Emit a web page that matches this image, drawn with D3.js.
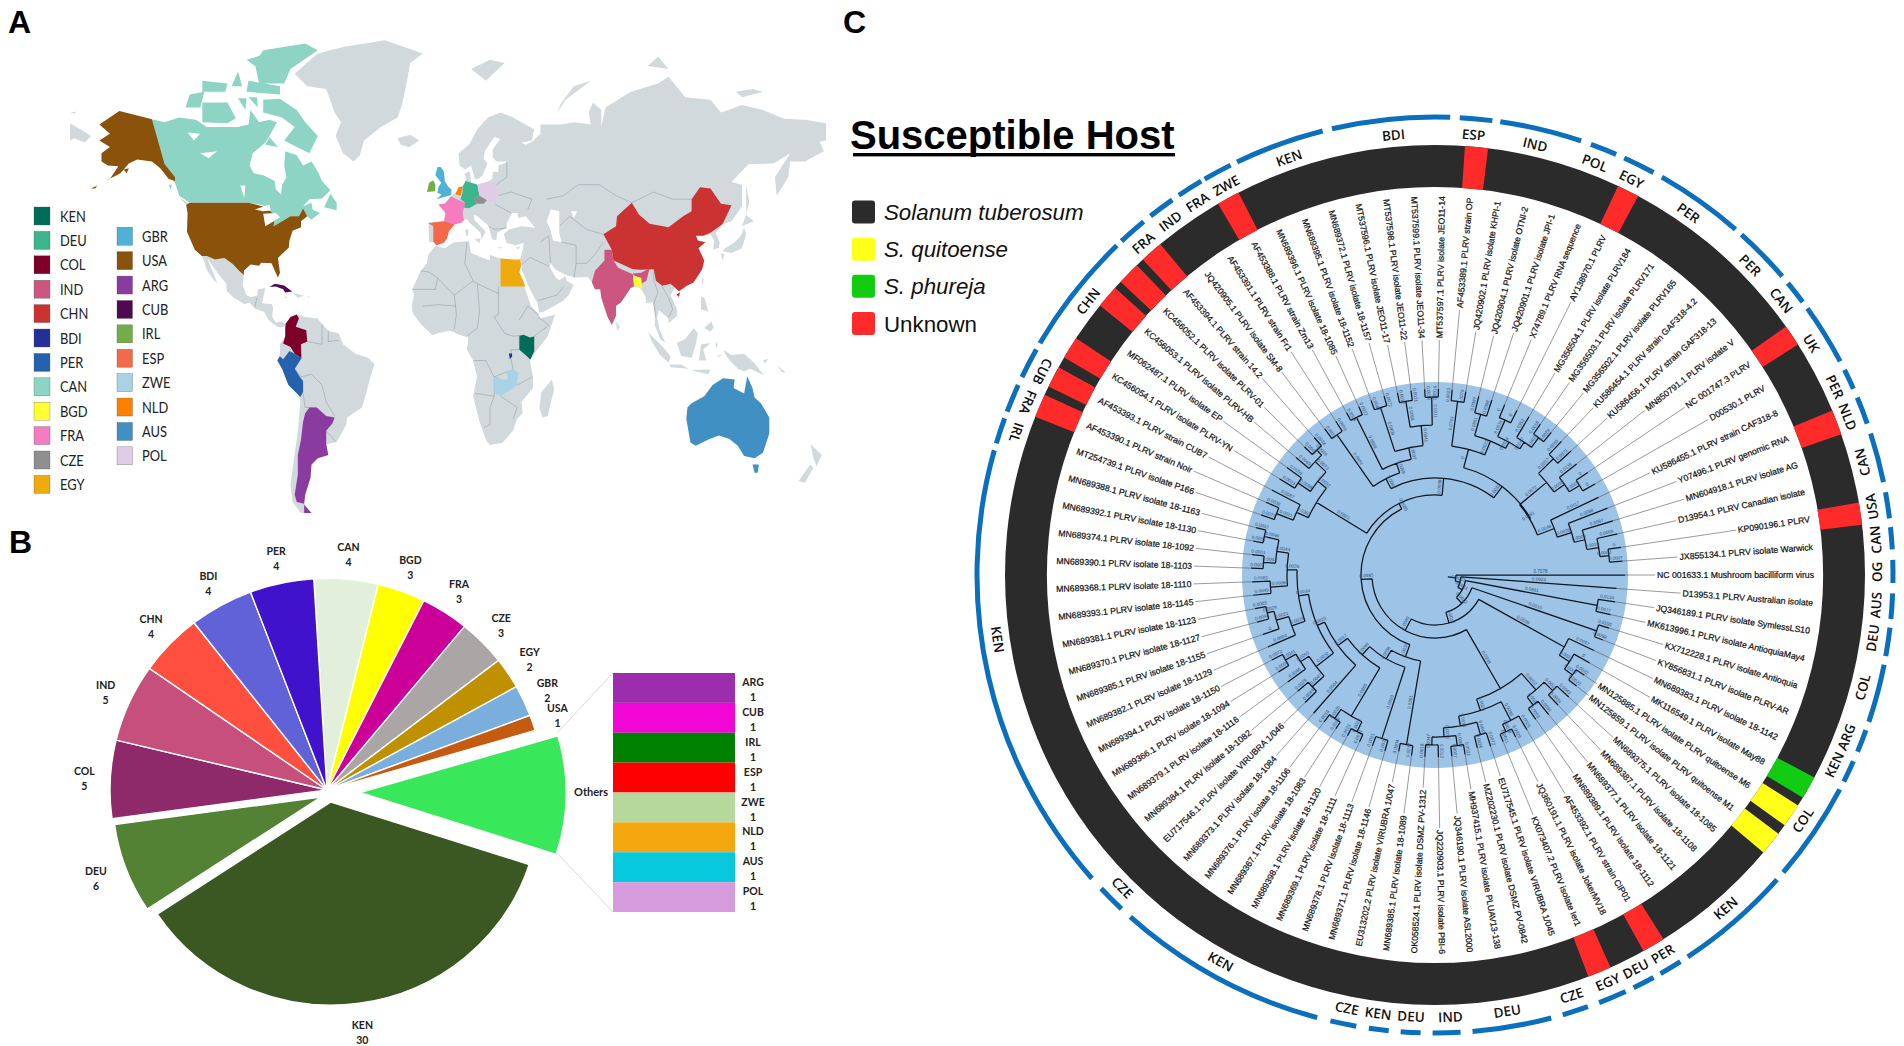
<!DOCTYPE html>
<html>
<head>
<meta charset="utf-8">
<script src="https://cdn.jsdelivr.net/npm/d3@7"></script>
<style>
  body { margin: 0; background: #fff; }
  svg { display: block; }
</style>
</head>
<body>
<div id="chart"></div>
<script>
// ---- panel A, legend
const legendLeft = ['KEN', 'DEU', 'COL', 'IND', 'CHN', 'BDI', 'PER', 'CAN', 'BGD', 'FRA', 'CZE', 'EGY'];
const legendRight = ['GBR', 'USA', 'ARG', 'CUB', 'IRL', 'ESP', 'ZWE', 'NLD', 'AUS', 'POL'];
const countryColors = {
  KEN: '#006d5b', DEU: '#3cb48c', COL: '#7d0028', IND: '#cc5680', CHN: '#cb3232', BDI: '#24309a',
  PER: '#2462ae', CAN: '#8dd4c5', BGD: '#ffff33', FRA: '#f57cc0', CZE: '#8f8f8f', EGY: '#efaa0e',
  GBR: '#4fb0d8', USA: '#8a520a', ARG: '#8a3ba0', CUB: '#4d0a50', IRL: '#72ad48', ESP: '#f26a4a',
  ZWE: '#a8d2e6', NLD: '#ff8000', AUS: '#4090c4', POL: '#dfcde8'
};

// ---- panel A, rough outlines in lon/lat
const greyLand = [
  [[-73,78.2],[-67,76],[-58,75.5],[-54,71],[-51,69],[-53.5,66],[-50,62],[-45,60],[-42,61.5],[-40,65],[-32,68],[-24,70],[-22,72.5],[-20,76],[-18,80],[-12,81.5],[-30,83.5],[-50,82.5],[-62,81.5],[-68,79.8]],
  [[-117.2,32.5],[-114.8,32.5],[-111,31.3],[-106.5,31.8],[-102.5,29.8],[-99.5,27.5],[-97.2,26],[-97.8,22.5],[-96,19],[-94,18.2],[-91,18.8],[-90.5,21],[-87,21.5],[-88,18],[-88.5,16],[-84,15.8],[-83.3,14.5],[-83.7,11],[-82,9],[-79.5,9.5],[-77.3,8.6],[-78,7.5],[-80.5,7.3],[-83,8.3],[-85.5,10],[-87.6,13],[-91.5,14],[-94.5,16.2],[-97,15.8],[-102,18],[-105.5,20.5],[-105.5,23],[-109,26],[-112.5,29.5],[-114.5,31.5],[-112,27],[-109.7,23],[-112,24.7],[-115,28],[-116,30.5]],
  [[-77.3,8.6],[-75,11],[-72,12],[-68,11],[-62,10.5],[-60,8.5],[-57,6],[-52,5],[-50,1],[-44,-2.5],[-38,-4],[-35,-6.5],[-37,-11],[-39,-17],[-41,-22],[-48,-25.5],[-48.5,-28],[-53,-33.8],[-58,-34.5],[-57,-38],[-62,-39],[-65,-41],[-65.5,-45],[-68,-50],[-68.5,-52.5],[-65,-55],[-70,-55],[-74,-52],[-75,-47],[-73.5,-40],[-71.5,-30],[-70.3,-20],[-71,-17.5],[-76,-14],[-79,-8],[-81.3,-5],[-80,-2.5],[-80,1],[-77.5,4],[-77.5,7]],
  [[-9,37],[-9.3,43],[-2,43.5],[-1.2,46],[-4.5,48.5],[-1.5,48.8],[1.5,50.8],[4,52],[7,53.5],[8.5,55.5],[8,57],[10.5,57.5],[11,54.5],[14,54],[18.5,54.7],[21,55.5],[21.5,57.5],[24,57.3],[24,59],[29,60],[23,60],[21.3,61],[21.3,63],[25,65.3],[22,65.8],[17.5,62.5],[17,60.7],[18.8,59.5],[16.5,56.5],[14.3,55.5],[12.8,55.5],[11,59],[8,58],[5.5,59],[5,62],[10,64],[14,67.5],[19,70],[25,71],[31,70],[41,67.5],[40,65],[35,64.5],[37,64],[40,64.7],[44,66.5],[44,68.5],[54,68.5],[60,69],[68,68.5],[67,71],[69,73],[73,71.5],[73,68],[75,72],[81,73.5],[87,75],[100,76.5],[105,77.7],[113,74],[125,73.5],[130,71],[140,72.5],[150,71.5],[160,69.7],[170,69.5],[180,68.8],[180,65],[177,64.7],[179,62.5],[170,60],[163,60],[162,56],[156.5,51],[155.7,56],[163,62],[155,59.5],[143,59.3],[135,54.7],[140,54],[140,48],[135,43.5],[130.5,42.5],[127.5,39.8],[129.4,37],[129,35.2],[126.3,34.5],[126.7,37.7],[125,39.5],[121.5,39],[118,39],[119,37.5],[122.5,37],[119.3,35],[122,31],[121,28],[117,23.5],[113.5,22.2],[110,20.3],[108,21.7],[106,19],[109,14],[109,11.5],[105,8.8],[105,10.5],[102,12.5],[100.5,13.5],[99.5,11],[100.5,7],[103.5,1.5],[101,3],[98.5,8],[98.5,12],[97.5,16.5],[94.5,16],[94,18.5],[92,21],[90.5,22],[87,21.5],[82.5,16.5],[80,15],[80,11.5],[78,8.2],[76,11],[73,18],[72.5,21],[70,21],[68.5,23.5],[66.5,25.3],[61,25.2],[57,25.8],[54.5,26.6],[51,28],[48.8,30.2],[48.5,28.5],[50.2,26.5],[51.5,25],[53,24.2],[56,25.7],[56.5,24],[59.8,22.5],[57.5,19],[55,17],[52,15.7],[45,12.8],[43.3,12.8],[42.7,16],[39,21],[35,28],[35,29.5],[34.3,31.3],[35.8,35],[36,36.7],[32,36],[28,36.7],[26.5,39.5],[29,41],[35,42],[41.5,41.5],[37,45],[33.5,44.5],[33,46],[30.5,46],[28,43],[28,41.5],[26,40.8],[23.5,40],[23,37.5],[21,38],[19.5,41.5],[19,42.3],[14,45],[12.3,45.5],[12.5,44],[18,40.3],[16,38],[15.5,40],[10.5,43],[8.8,44.3],[6,43],[3.2,43],[0.5,40.5],[-0.5,38.2],[-2,36.8],[-5.5,36],[-7,37]],
  [[-180,68.8],[-175,67.5],[-170,66],[-173,64.5],[-178,65.5],[-180,65]],
  [[-5.8,35.8],[-1.5,35],[3,37],[10,37.3],[11,33.5],[15,32.3],[20,31],[20,32.8],[25,31.6],[32,31.2],[34.3,31.3],[32.5,29.8],[35,24],[37.3,20],[39.5,15],[43.3,12],[44,10.5],[51,12],[47.5,4],[41.5,-2],[39,-5],[40.5,-11],[40.5,-15],[35,-20],[35.5,-24],[32.8,-26],[31,-30],[26,-34],[20,-34.8],[18.3,-33.5],[15,-27],[12,-18],[13.8,-11],[12,-5],[9,-1],[9.7,3.5],[5.5,4.5],[1,6],[-4.5,5.2],[-7.5,4.3],[-13,8.5],[-16.7,12.3],[-17.3,14.8],[-16.2,19],[-17,21],[-13,27.5],[-10,30],[-9.5,32.8],[-6,35.8]],
  [[49.5,-12],[50.5,-15.5],[47.5,-25],[45,-25.5],[43.5,-22],[44.5,-16.5]],
  [[130.8,34],[135,33.5],[140,35],[142,39.5],[141,41.5],[139.5,39],[136.5,37],[132,35]],
  [[140,42],[145.5,43.5],[142,45.5]],
  [[130,33.5],[131.8,33],[130.6,31]],
  [[142,54],[143.5,49],[142,46],[142,50]],
  [[95.3,5.5],[103.5,-1],[106,-3.5],[105,-5.8],[101,-3],[97,2]],
  [[105.5,-6.5],[111,-6.5],[114.5,-8],[106,-7.5]],
  [[109,1.5],[113,3],[117,7],[119,5],[118,1],[116,-4],[111,-3.3]],
  [[119.5,-5],[120.5,1],[125,1.5],[121.5,-1],[123,-5]],
  [[131,-1],[135,-3],[141,-2.5],[146,-6],[150.5,-10.5],[144,-8],[141,-9],[138,-8],[133,-4]],
  [[120.5,18.5],[122,18],[124,13],[120.5,14]],
  [[122,7],[125.5,9.5],[126.5,7],[125,5.7]],
  [[80,9.5],[81.8,7.5],[80.5,6]],
  [[121,25],[121.8,24.8],[120.8,22]],
  [[-24,65.5],[-18,66.3],[-13.7,65],[-18.5,63.4],[-22.5,64]],
  [[11,79],[20,80.5],[27,80],[18,77]],
  [[52,71],[56,73.5],[68,77],[60,76],[54,73]],
  [[95,79.5],[105,79],[100,81]],
  [[137,75],[145,75.5],[150,75],[140,74]],
  [[-74,19.8],[-68.5,18.7],[-71.5,18]],
  [[172.7,-34.5],[178,-38],[175.5,-41.5],[174,-39]],
  [[172.5,-41],[174,-42],[170,-46.5],[167,-46]],
  [[8.3,41],[9.7,41],[9.5,39],[8.5,39]],
  [[12.5,38],[15.6,38.2],[15,36.7]],
  [[116,-8.5],[125,-8.3],[124,-10],[118,-9]],
  [[127.5,2],[128.5,1],[127.8,-0.8]],
  [[129,-3],[130.8,-3.2],[128,-3.8]],
  [[-78,18.5],[-76.3,18.1],[-77.5,17.8]],
  [[-67.2,18.5],[-65.7,18.4],[-66.5,18]],
  [[150,-5],[152.5,-4.3],[151,-6.2]],
  [[157,-7],[161,-9.5],[159,-9.2]],
  [[23.5,35.5],[26.3,35.2],[24.5,34.9]],
  [[32.5,35.3],[34.5,35.6],[33.5,34.6]],
  [[-180,71],[-177,71.2],[-178,70.8]]
];
const whiteLakes = [
  [[49,47],[53,46.5],[53,40],[54,37],[50,37.5],[49,40.5],[47,43.5]],
  [[-92,47],[-85,48.5],[-84.5,46.7],[-88,46.5]],
  [[-88,45.8],[-82,46],[-80,44.8],[-83,43.5],[-87,42]],
  [[58.5,46.5],[61.5,46.5],[60,44.5]],
  [[-124,66.8],[-118,66.5],[-121,65]],
  [[-118,62],[-110,62.5],[-114,60.8]],
  [[-99,53.8],[-96.5,53.8],[-97,50.5]]
];
const canRings = [
  [[-141,69.6],[-135,69],[-128,70],[-120,69.5],[-115,68],[-108,68],[-100,68],[-95,68.5],[-94,71.5],[-90,69],[-85,69.5],[-81.5,69],[-85,66],[-87,64.5],[-93,62],[-94.5,59],[-92.5,57],[-88,56.5],[-82.5,55],[-82,52.8],[-79.5,51.3],[-79,54],[-77,56],[-78,59],[-77.5,62.5],[-72,61.5],[-69,59],[-65,60],[-62,57.5],[-60,55],[-56,52.5],[-60,50.2],[-66,50],[-69,48],[-65,49],[-64.5,47],[-61,46],[-65,44],[-67,45],[-69,47.3],[-71,45],[-75,45],[-79,43.5],[-83,42],[-82.5,45.3],[-84.5,46.5],[-88,48.3],[-95,49],[-123,49],[-128,51],[-130,54.5],[-133,56.5],[-135,59],[-141,60]],
  [[-62,66],[-66,62],[-72,63.5],[-78,65],[-73,68],[-79,70],[-88,71],[-88,73.5],[-80,73.7],[-72,71.5],[-68,69]],
  [[-117,69],[-105,68.8],[-101,69.8],[-105,73],[-117,73]],
  [[-125,72],[-118,72],[-116,75],[-123,74.5]],
  [[-90,76.5],[-78,76.5],[-75,79],[-62,82],[-68,83],[-88,82],[-92,80]],
  [[-96,75],[-80,74.5],[-80,76],[-95,77]],
  [[-117,75],[-106,75],[-105,76.5],[-117,77]],
  [[-87,64],[-81,63.5],[-85,65.8]],
  [[-59,47.7],[-53,46.8],[-53,49],[-56,51.5]],
  [[-128,50.7],[-123.5,48.4],[-125,48.7]],
  [[-100,73.8],[-96.5,71.5],[-96,73.8]],
  [[-95,74],[-90.5,72],[-91,74]],
  [[-96,80.5],[-88,78.5],[-88,81.3]],
  [[-100,78.6],[-103,76],[-98,76]],
  [[-133,54],[-131.5,54],[-132,52.5]]
];
const usaRings = [
  [[-124.7,48.4],[-123,49],[-95,49],[-88.5,48],[-84.5,46.5],[-82.5,45.3],[-83,42],[-79,43.5],[-75,45],[-71,45],[-69,47.3],[-67,45],[-70,43.5],[-70,41.7],[-74,40.6],[-75.5,37.5],[-75.8,35.3],[-81,31.8],[-80,26.8],[-81,25.2],[-82.8,28],[-84,30],[-89,30.2],[-90,29.2],[-94,29.6],[-97.2,27.5],[-97.2,26],[-99.5,27.5],[-102.5,29.8],[-106.5,31.8],[-111,31.3],[-114.8,32.5],[-117.2,32.5],[-120.6,34.5],[-122.5,37.5],[-124.3,40.3],[-124,46]],
  [[-141,69.6],[-148,70.4],[-156.5,71.3],[-166,68.5],[-161,66.5],[-166,65],[-161,63.5],[-165,62],[-165,60],[-162,59],[-157,58.8],[-161,55.5],[-164,54.7],[-156,57],[-152,59.5],[-148,60.5],[-141,60],[-137,58.3],[-133,55.5],[-130,55],[-130,56],[-135,59.4]],
  [[-154.5,58],[-152,58.3],[-153,57]],
  [[-170,53],[-167,53.8],[-168,53]]
];
const countryRings = [
  ['CAN', canRings],
  ['USA', usaRings],
  ['CUB', [[[-85,21.8],[-82.5,23],[-78,22.4],[-74.2,20.2],[-77.5,19.9],[-78.5,21],[-82,22]]]],
  ['COL', [[[-77.3,8.6],[-75,11],[-72,12],[-71,10.5],[-72.5,7.5],[-67.5,6.2],[-67,2],[-70,1],[-69.8,-4.2],[-73,-2.5],[-75,0],[-78.5,1.3],[-77.5,4],[-77.5,7]]]],
  ['PER', [[[-81.3,-5],[-80,-3.4],[-78.5,-4.5],[-75.5,-1.5],[-73,-2.5],[-69.8,-4.2],[-73,-8],[-70.5,-11],[-69,-12.5],[-69,-16.5],[-70.3,-18.3],[-76,-14],[-79,-8]]]],
  ['ARG', [[[-66,-22],[-62.5,-22],[-58,-25],[-54,-25.5],[-55,-27.5],[-58,-30],[-58,-34.5],[-57,-38],[-62,-39],[-65,-41],[-65.5,-45],[-68,-50],[-68.5,-52.5],[-72,-52],[-73,-50],[-71.5,-44],[-71.5,-38],[-70,-33],[-69,-27],[-68,-24]], [[-68.5,-52.8],[-65,-55],[-68.5,-55]]]],
  ['EGY', [[[25,31.6],[32,31.2],[34.3,31.3],[34.9,29.5],[34,27],[36.9,22],[25,22]]]],
  ['KEN', [[[34,4.2],[36,4.5],[39,3.5],[41,3.9],[41,-1.7],[39.2,-4.6],[37.7,-3.5],[34,-1]]]],
  ['BDI', [[[29,-2.4],[30.5,-2.4],[30.5,-3.5],[29.4,-4.4]]]],
  ['ZWE', [[[22,-11],[24,-11],[25,-12],[28.5,-12],[28,-9],[31,-8.3],[33.5,-9.5],[33,-12],[33,-14],[30.2,-15.5],[28,-16.5],[25.5,-17.8],[23,-17.5],[22,-16]]]],
  ['GBR', [[[-5.5,50],[1.5,51.2],[1.7,52.7],[0,53.5],[-1.5,55],[-2,57.6],[-3.5,58.6],[-5,58.6],[-6,56.5],[-3.2,54.5],[-4.6,53.3],[-5,51.7],[-3,51.3]]]],
  ['IRL', [[[-10,52],[-6.2,52.2],[-6,54],[-7,55.2],[-9,54.5]]]],
  ['FRA', [[[-1.8,43.4],[3.2,42.5],[6,43],[7.6,43.8],[7,46],[8.2,49],[4.2,50],[1.5,50.8],[-1.5,48.8],[-4.5,48.5],[-1.2,46]]]],
  ['ESP', [[[-9.3,43],[-2,43.5],[3.2,42.5],[0.5,40.5],[-0.5,38.2],[-2,36.8],[-5.5,36],[-7,37.2],[-7,42]]]],
  ['DEU', [[[7,53.5],[8.5,55],[11,54.5],[14,54],[15,51],[12.3,50.3],[13.8,48.7],[10,47.4],[7.6,47.6],[8.2,49],[6,50],[7,52]]]],
  ['POL', [[[14,54],[18.5,54.7],[23,54.3],[24,51],[22.5,49.2],[19,49.5],[15,51]]]],
  ['NLD', [[[4,52],[5,53.3],[7,53.5],[6,51],[3.5,51.4]]]],
  ['CZE', [[[12.3,50.3],[15,51],[18.5,49.7],[17,48.7],[13.8,48.7]]]],
  ['CHN', [[[74,39.5],[80,42],[80.5,45],[87.5,49],[91,45.5],[96,42.8],[105,41.7],[112,45],[116,46.5],[116,50],[120,53.3],[125,53],[130,48.7],[135,48.3],[131,43],[130.5,42.5],[125,40],[121.5,39],[118,39],[119,37.5],[122.5,37],[119.3,35],[122,31],[121,28],[117,23.5],[113.5,22.2],[110,20.3],[108,21.7],[106,23],[102,22.3],[99,24],[98,28],[92,27.8],[88,28],[81,30.3],[78.8,31],[78,34.5]], [[108.7,19.2],[110.5,20],[110,18.3]]]],
  ['IND', [[[68.5,23.5],[70,21],[72.5,21],[73,18],[76,11],[78,8.2],[80,11.5],[80,15],[82.5,16.5],[87,21.5],[88.5,22],[88,26.5],[92,26.8],[96,28.3],[94.5,24],[92,23],[92,25],[89.5,25.5],[88,26.3],[81,28.5],[78.8,31],[78,34.5],[74.5,34.5],[74.5,31],[70,27.5]]]],
  ['BGD', [[[88.2,25.8],[92,25],[92.5,21],[90.5,22],[88.7,22]]]],
  ['AUS', [[[114,-22],[113.5,-26],[115.5,-34],[118,-35],[124,-33],[129,-31.6],[134,-32.8],[138,-35],[141,-38.3],[146,-39],[150,-37.3],[153,-31],[153,-25.5],[149,-20.5],[146,-18.5],[145,-15],[142.5,-10.8],[141,-17],[136,-15],[136.5,-12],[131,-11.5],[126,-14],[122,-18],[116,-20.5]], [[145,-41],[148,-41],[147.5,-43.5],[146,-43.5]]]]
];
const borderLines = [
  [[9,37],[8,30],[12,24],[14,23],[24,19.5],[24,22]],
  [[24,20],[24,12],[22,11],[27,5],[31,4],[34,4.2]],
  [[-13,27.5],[-9,27],[-5,25],[3,19],[12,24]],
  [[14,23],[15,13],[14,7],[9,4]],
  [[3,19],[4,12],[3,6.5]],
  [[-12,15],[-5,15.5],[4,15]],
  [[-17,21],[-6,21],[-5,25]],
  [[34,4.2],[34,-1],[30,-1],[30,-4.5],[31,-8.3],[22,-11],[22,-18],[13,-17]],
  [[22,-18],[20,-22],[20,-28],[17,-29]],
  [[12,-5],[18,-5],[22,-11]],
  [[41,-1.7],[41,4],[48,8],[43,11]],
  [[34,10],[38,15],[43,12]],
  [[33,-14],[40,-11]],
  [[25,-18],[33,-22],[31,-26]],
  [[60,25],[61,30],[61,36],[54,37]],
  [[61,30],[66,30],[70,33],[74,37]],
  [[47,50],[55,51],[62,54],[72,54],[80,51],[87.5,49]],
  [[53,42],[58,45],[66,41],[74,39.5]],
  [[87.5,49],[98,52],[107,50],[116,50]],
  [[44,37],[48,39],[48.8,30.2]],
  [[35,29.5],[39,32],[48,29]],
  [[43,17],[52,19],[55,22]],
  [[98,28],[98,24],[100,20],[98,16],[99,11]],
  [[102,22],[105,18],[107,14],[105,11]],
  [[28,41.5],[22,41],[19.5,42]],
  [[23,54],[28,56],[28,60]],
  [[30,52],[40,50],[38,47]],
  [[24,51],[30,52]],
  [[22.5,48.5],[30,46]],
  [[-60,8.5],[-60,5],[-60,1],[-67,2]],
  [[-69.8,-4.2],[-73,-8],[-70,-11],[-65,-10],[-60,-14],[-58,-20],[-54,-25]],
  [[-69,-17],[-68,-22],[-62.5,-22]],
  [[-57,6],[-57,2],[-52,2.5]],
  [[-53.5,-33.7],[-58,-30]],
  [[-92,14.5],[-91,18]]
];

// ---- panel B
const pieHosts = ['CAN', 'BGD', 'FRA', 'CZE', 'EGY', 'GBR', 'USA', 'Others', 'KEN', 'DEU', 'COL', 'IND', 'CHN', 'BDI', 'PER'];
const pieCounts = [4, 3, 3, 3, 2, 2, 1, 8, 30, 6, 5, 5, 4, 4, 4];
const pieColors = ['#e2efda', '#ffff00', '#cc0099', '#aba6a6', '#bf9000', '#7aaedd', '#c55a11', '#38e85a', '#3b5722', '#548235', '#8f2a6a', '#c74f7b', '#ff4f3f', '#6262d8', '#4012cc'];
const otherHosts = ['ARG', 'CUB', 'IRL', 'ESP', 'ZWE', 'NLD', 'AUS', 'POL'];
const otherCounts = [1, 1, 1, 1, 1, 1, 1, 1];
const otherColors = ['#9c2dac', '#f206d6', '#008000', '#ff0000', '#b5d99c', '#f4a70f', '#08c8de', '#d59bdc'];

// ---- panel C, legend and rings (angles in degrees, clockwise from the top)
const hostNames = ['Solanum tuberosum', 'S. quitoense', 'S. phureja', 'Unknown'];
const hostColors = ['#2b2b2b', '#ffff1a', '#11cc11', '#ff2a2a'];
const hostItalic = [true, true, true, false];
const ringSegments = [
  ['Unknown', 4.0, 7.1], ['Unknown', 25.2, 28.2], ['Unknown', 54.7, 57.6], ['Unknown', 67.5, 70.9], ['Unknown', 80.3, 83.3],
  ['S. phureja', 118.1, 121.2], ['S. quitoense', 122.4, 125.6], ['S. quitoense', 127, 130.2],
  ['Unknown', 147.9, 151], ['Unknown', 155.9, 159.1],
  ['Unknown', 291.6, 294.8], ['Unknown', 296, 298.9], ['Unknown', 300.4, 303.4],
  ['Unknown', 308.8, 311.9], ['Unknown', 313, 316.1], ['Unknown', 317.2, 320.3], ['Unknown', 329.7, 332.8]
];
const originArcs = [
  ['BDI', 347, 361.9, 354.6], ['ESP', 3.1, 7.2, 5], ['IND', 8.2, 18.6, 13.1], ['POL', 19.9, 23.3, 21.2], ['EGY', 24.4, 28.5, 26.4],
  ['PER', 29.7, 41, 35], ['PER', 42, 49.3, 45.5], ['CAN', 50.4, 53.4, 51.6], ['UK', 54.4, 62.2, 58.4], ['PER', 63.4, 66, 64.8],
  ['NLD', 67.2, 70.7, 69], ['CAN', 72, 78.3, 75.2], ['USA', 79.6, 82.9, 81.1], ['CAN', 84, 86.8, 85.4], ['OG', 88.1, 91, 89.6],
  ['AUS', 92.3, 95.5, 93.9], ['DEU', 96.6, 100.2, 98.2], ['COL', 101.3, 108.7, 104.7], ['ARG', 109.8, 112.7, 111.5], ['KEN', 114, 116.8, 115.4],
  ['COL', 117.9, 130.5, 123.7], ['KEN', 131.7, 146.5, 138.9], ['PER', 147.6, 150.5, 149], ['DEU', 151.5, 154.3, 153], ['EGY', 155.4, 159, 157],
  ['CZE', 160.5, 163.8, 162], ['DEU', 165.3, 175.3, 170.6], ['IND', 176.8, 180.3, 178], ['DEU', 181.8, 184.3, 183.1], ['KEN', 185.8, 188.3, 187.4],
  ['CZE', 189.9, 193.2, 191.5], ['KEN', 194.9, 221.7, 209], ['CZE', 223.2, 226.8, 225], ['KEN', 228.5, 285.8, 261.6], ['IRL', 286.7, 290, 288.8],
  ['FRA', 290.9, 294.5, 293], ['CUB', 295.6, 299.5, 297.4], ['CHN', 300.4, 316, 308.3], ['FRA', 316.8, 320.5, 318.7], ['IND', 321.6, 325, 323.2],
  ['FRA', 326, 329.3, 327.5], ['ZWE', 329.8, 333.5, 331.8], ['KEN', 334.4, 345.8, 340.7]
];

// ---- panel C, tip labels in tree order, clockwise from the outgroup
const tipLabels = [
  'NC 001633.1 Mushroom bacilliform virus', 'D13953.1 PLRV Australian isolate', 'JQ346189.1 PLRV isolate SymlessLS10',
  'MK613996.1 PLRV isolate AntioquiaMay4', 'KX712228.1 PLRV isolate Antioquia', 'KY856831.1 PLRV isolate PLRV-AR',
  'MN689383.1 PLRV isolate 18-1142', 'MK116549.1 PLRV isolate May88', 'MN125885.1 PLRV isolate PLRV quitoense M6',
  'MN125859.1 PLRV isolate PLRV quitoense M1', 'MN689375.1 PLRV isolate 18-1085', 'MN689387.1 PLRV isolate 18-1108',
  'MN689377.1 PLRV isolate 18-1121', 'MN689389.1 PLRV isolate 18-1112', 'AF453392.1 PLRV strain CIP01',
  'JQ360191.1 PLRV isolate JokerMV18', 'KX073407.2 PLRV isolate Ier1', 'EU717545.1 PLRV isolate VIRUBRA 1/045',
  'MZ202230.1 PLRV isolate DSMZ PV-0842', 'MH937415.1 PLRV isolate PLUAV13-138', 'JQ346190.1 PLRV isolate ASL2000',
  'JQ220903.1 PLRV isolate PBI-6', 'OK058524.1 PLRV isolate DSMZ PV-1312', 'MN689385.1 PLRV isolate 18-1089',
  'EU313202.2 PLRV isolate VIRUBRA 1/047', 'MN689371.1 PLRV isolate 18-1146', 'MN689378.1 PLRV isolate 18-1113',
  'MN689369.1 PLRV isolate 18-1111', 'MN689398.1 PLRV isolate 18-1120', 'MN689367.1 PLRV isolate 18-1083',
  'MN689376.1 PLRV isolate 18-1106', 'MN689373.1 PLRV isolate 18-1084', 'EU717546.1 PLRV isolate VIRUBRA 1/046',
  'MN689384.1 PLRV isolate 18-1082', 'MN689379.1 PLRV isolate 18-1116', 'MN689366.1 PLRV isolate 18-1094',
  'MN689394.1 PLRV isolate 18-1150', 'MN689382.1 PLRV isolate 18-1129', 'MN689385.1 PLRV isolate 18-1155',
  'MN689370.1 PLRV isolate 18-1127', 'MN689381.1 PLRV isolate 18-1123', 'MN689393.1 PLRV isolate 18-1145',
  'MN689368.1 PLRV isolate 18-1110', 'MN689390.1 PLRV isolate 18-1103', 'MN689374.1 PLRV isolate 18-1092',
  'MN689392.1 PLRV isolate 18-1130', 'MN689388.1 PLRV isolate 18-1163', 'MT254739.1 PLRV isolate P166',
  'AF453390.1 PLRV strain Noir', 'AF453393.1 PLRV strain CUB7', 'KC456054.1 PLRV isolate PLRV-YN',
  'MF062487.1 PLRV isolate EP', 'KC456053.1 PLRV isolate PLRV-HB', 'KC456052.1 PLRV isolate PLRV-01',
  'AF453394.1 PLRV strain 14.2', 'JQ420905.1 PLRV isolate SM-8', 'AF453391.1 PLRV strain Fr1',
  'AF453388.1 PLRV strain Zm13', 'MN689396.1 PLRV isolate 18-1085', 'MN689395.1 PLRV isolate 18-1152',
  'MN689372.1 PLRV isolate 18-1157', 'MT537596.1 PLRV isolate JEO11-17', 'MT537598.1 PLRV isolate JEO11-22',
  'MT537599.1 PLRV isolate JEO11-34', 'MT537597.1 PLRV isolate JEO11-14', 'AF453389.1 PLRV strain OP',
  'JQ420902.1 PLRV isolate KHPI-1', 'JQ420904.1 PLRV isolate OTNI-2', 'JQ420901.1 PLRV isolate JPI-1',
  'X74789.1 PLRV RNA sequence', 'AY138970.1 PLRV', 'MG356504.1 PLRV isolate PLRV184',
  'MG356503.1 PLRV isolate PLRV171', 'MG356502.1 PLRV isolate PLRV165', 'KU586454.1 PLRV strain GAF318-4.2',
  'KU586456.1 PLRV strain GAF318-13', 'MN850791.1 PLRV isolate V', 'NC 001747.3 PLRV', 'D00530.1 PLRV',
  'KU586455.1 PLRV strain CAF318-8', 'Y07496.1 PLRV genomic RNA', 'MN604918.1 PLRV isolate AG',
  'D13954.1 PLRV Canadian isolate', 'KP090196.1 PLRV', 'JX855134.1 PLRV isolate Warwick'
];

// ---- panel C, tree: [branch label, depth, children]; a node without children is a tip
const cladeOneThree = ['0.0012', 153, [
  ['0.0012', 165, [['0.0043', 181], ['0.0034', 179]]],
  ['0.0021', 163, [['0.0034', 180], ['0.0002', 176]]]
]];
const cladeSouth = ['0.0338', 131, [
  cladeOneThree,
  ['0.0023', 143, [
    ['0.0336', 164, [['0.0025', 180], ['0.0048', 172, [['0.0029', 181], ['0.0011', 180]]]]],
    ['0.0039', 153, [
      ['0.0045', 166, [['0.0072', 180], ['0.0026', 178]]],
      ['0.0036', 162, [['0.0060', 172, [['0.0031', 182], ['0.0027', 182]]], ['0.0047', 170, [['0.0012', 182], ['0.0018', 182]]]]]
    ]]
  ]]
]];
const cladeWest = ['0.0034', 87, [
  ['0.0351', 172, [['0.0017', 182], ['0.0004', 180]]],
  ['0.0056', 97, [
    ['0.0303', 172, [['0.0032', 183], ['0.0021', 182]]],
    ['0.0048', 108, [
      ['0.0885', 164, [['0.0029', 175, [['0.0014', 183], ['0.0021', 183]]], ['0.0035', 175, [['0.0009', 183], ['0.0018', 184]]]]],
      ['0.0017', 120, [
        ['0.0504', 184],
        ['0.0023', 128, [
          ['0.0032', 150, [
            ['0.0047', 166, [['0.0044', 182], ['0.0029', 180]]],
            ['0.0050', 160, [['0.0046', 182], ['0.0041', 172, [['0.0068', 184], ['0.0072', 184]]]]]
          ]],
          ['0.0034', 138, [
            ['0.0028', 152, [['0.0003', 182], ['0.0021', 165, [['0', 182], ['0.0029', 172, [['0.0044', 184], ['0.0003', 183]]]]]]],
            ['0.0026', 148, [
              ['0.0006', 165, [['0.0049', 183], ['0.0061', 183]]],
              ['0.0044', 160, [['0.0067', 172, [['0.0007', 184], ['0.0001', 184]]], ['0.0046', 175, [['0.0031', 185], ['0.0032', 185]]]]]
            ]]
          ]]
        ]]
      ]]
    ]]
  ]]
]];
const cladeNorthWest = ['0.0821', 139, [
  ['0.0361', 152, [['0.0011', 170, [['0.0071', 184], ['0.0038', 184]]], ['0.0087', 184]]],
  ['0.0052', 150, [
    ['0.0098', 165, [['0.0023', 183], ['0.0059', 183]]],
    ['0.0073', 165, [['0.0069', 182], ['0.0026', 172, [['0.0045', 183], ['0.0038', 183]]]]]
  ]]
]];
const cladeNorth = ['0.0062', 108, [
  ['0.0804', 171, [['0.0019', 183], ['0.0036', 183]]],
  ['0.0058', 118, [
    ['0.0868', 176, [['0.0064', 185], ['0.0022', 185]]],
    ['0.0037', 130, [
      ['0.0909', 176, [['0.0047', 186], ['0.0072', 186]]],
      ['0.0041', 150, [['0.0058', 176, [['0.0012', 186], ['0.0021', 186]]], ['0.0011', 178, [['0.0010', 186], ['0.0014', 186]]]]]
    ]]
  ]]
]];
const cladeNorthEast = ['0', 130, [
  ['0.0704', 175, [['0.0023', 186], ['0.0079', 186]]],
  ['0.0022', 145, [
    ['0.0851', 167, [['0.0087', 184], ['0.0398', 184]]],
    ['0.0034', 152, [
      ['0.0034', 170, [['0', 184], ['0', 184]]],
      ['0.0047', 160, [['0.0352', 184], ['0.0025', 172, [['0.0016', 184], ['0.0026', 184]]]]]
    ]]
  ]]
]];
const cladeEast = ['0.0091', 110, [
  ['0.0872', 145, [
    ['0.0017', 166, [['0.0080', 184], ['0.0071', 184]]],
    ['0.0035', 158, [['0.0135', 180], ['0.0008', 170, [['0', 184], ['0', 184]]]]]
  ]],
  ['0.0046', 128, [
    ['0.0117', 181],
    ['0.0026', 143, [
      ['0.0088', 185],
      ['0.0009', 154, [
        ['0.0097', 186],
        ['0.0016', 166, [['0.0068', 187], ['0.0003', 175, [['0', 188], ['0.0007', 188]]]]]
      ]]
    ]]
  ]]
]];
const treeRoot = ['0', 21, [
  ['0.7078', 190],
  ['0.0013', 26, [
    ['0.0923', 182],
    ['0.0011', 31, [
      ['0.0861', 165, [['0.0134', 182], ['0.0077', 180]]],
      ['0.0022', 39, [
        ['0.0015', 171, [['0.0195', 182], ['0.0098', 180]]],
        ['0.0012', 50, [
          ['0.0039', 148, [['0.0057', 176], ['0.0021', 160, [['0', 178], ['0.0009', 170, [['0.0042', 180], ['0.0023', 180]]]]]]],
          ['0.0089', 63, [
            cladeSouth,
            ['0.0985', 74, [
              cladeWest,
              ['0.0085', 80, [
                cladeNorthWest,
                ['0.0098', 97, [cladeNorth, ['0.0032', 111, [cladeNorthEast, cladeEast]]]]
              ]]
            ]]
          ]]
        ]]
      ]]
    ]]
  ]]
]];

// ---- drawing
const svg = d3.select('#chart').append('svg').attr('width', 1904).attr('height', 1046);

function centeredText(parent, x, y, str, size) {
  return parent.append('text')
    .attr('x', x)
    .attr('y', y)
    .attr('text-anchor', 'middle')
    .attr('font-size', size)
    .text(str);
}

function panelLetter(str, x, y) {
  svg.append('text')
    .attr('x', x)
    .attr('y', y)
    .attr('font-family', 'Liberation Sans')
    .attr('font-weight', 700)
    .attr('font-size', 32)
    .text(str);
}
panelLetter('A', 8, 33);
panelLetter('B', 9, 553);
panelLetter('C', 843, 33);

// panel A
function renderMap() {
  const g = svg.append('g');
  const miller = lat => 1.25 * Math.log(Math.tan(Math.PI / 4 + 0.4 * lat * Math.PI / 180));
  const x = d3.scaleLinear().domain([-180, 180]).range([70, 826]);
  const y = d3.scaleLinear().domain([0, 1]).range([347, 192]);
  const transform = d3.geoTransform({
    point(lon, lat) {
      this.stream.point(x(lon), y(miller(lat)));
    }
  });
  const path = d3.geoPath(transform);
  const poly = rings => ({ type: 'MultiPolygon', coordinates: rings.map(r => [r.concat([r[0]])]) });
  const line = l => ({ type: 'LineString', coordinates: l });

  g.selectAll('.land').data(greyLand).enter().append('path')
    .attr('class', 'land')
    .attr('d', r => path(poly([r])))
    .attr('fill', '#d1d9dc');
  g.selectAll('.border').data(borderLines).enter().append('path')
    .attr('class', 'border')
    .attr('d', l => path(line(l)))
    .attr('fill', 'none')
    .attr('stroke', '#8b989c')
    .attr('stroke-width', 0.5);
  g.selectAll('.country').data(countryRings).enter().append('path')
    .attr('class', 'country')
    .attr('d', d => path(poly(d[1])))
    .attr('fill', d => countryColors[d[0]]);
  g.selectAll('.lake').data(whiteLakes).enter().append('path')
    .attr('class', 'lake')
    .attr('d', r => path(poly([r])))
    .attr('fill', '#fff');

  const rowY = d3.scaleLinear().domain([0, 1]).range([216, 240.4]);
  function legendColumn(codes, first, boxX, textX, boxW) {
    codes.forEach((code, i) => {
      const cy = rowY(i + first);
      g.append('rect').attr('x', boxX).attr('y', cy - 9).attr('width', boxW).attr('height', 18)
        .attr('fill', countryColors[code]).attr('stroke', '#555').attr('stroke-width', 0.3);
      g.append('text')
        .attr('transform', `translate(${textX},${cy + 5.5}) scale(0.86,1)`)
        .attr('font-family', 'Lato').attr('font-size', 15).attr('fill', '#222')
        .text(code);
    });
  }
  legendColumn(legendLeft, 0, 34, 60, 16);
  legendColumn(legendRight, 0.83, 117, 142, 15.5);
}
renderMap();

// panel B
function renderPie() {
  const g = svg.append('g').attr('font-family', 'Lato').attr('font-weight', 700).attr('fill', '#222');
  const center = [327, 790];
  const radius = 217;
  const stretch = 0.975;
  const explode = { Others: [33, 2.5, 0.95], KEN: [4, 12, 0.96], DEU: [-6, 7, 0.96] };
  const start = -3.5 * Math.PI / 180;
  const slices = d3.pie().sort(null).startAngle(start).endAngle(start + 2 * Math.PI)(pieCounts);

  slices.forEach((s, i) => {
    const off = explode[pieHosts[i]] || [0, 0, 1];
    const arc = d3.arc().innerRadius(0).outerRadius(radius * off[2]);
    g.append('path')
      .attr('transform', `translate(${center[0] + off[0]},${center[1] + off[1]}) scale(1,${stretch})`)
      .attr('d', arc(s))
      .attr('fill', pieColors[i])
      .attr('stroke', '#fff')
      .attr('stroke-width', 1.4)
      .attr('vector-effect', 'non-scaling-stroke');
    if (pieHosts[i] === 'Others') return;
    const mid = (s.startAngle + s.endAngle) / 2;
    const lx = center[0] + off[0] * 0.6 + 243 * Math.sin(mid);
    const ly = center[1] + off[1] * 0.6 - 243 * stretch * Math.cos(mid);
    centeredText(g, lx, ly - 3, pieHosts[i], 10.5);
    centeredText(g, lx, ly + 12, pieCounts[i], 10.5);
  });
  centeredText(g, 591, 796, 'Others', 11);

  const barY = d3.scaleLinear().domain([0, d3.sum(otherCounts)]).range([673, 912]);
  let acc = 0;
  otherHosts.forEach((h, i) => {
    const y0 = barY(acc);
    const y1 = barY(acc + otherCounts[i]);
    g.append('rect').attr('x', 613).attr('y', y0).attr('width', 122).attr('height', y1 - y0)
      .attr('fill', otherColors[i]);
    centeredText(g, 753, y0 + 13, h, 10.5);
    centeredText(g, 753, y0 + 28, otherCounts[i], 10.5);
    acc += otherCounts[i];
  });
  const link = d3.line();
  [[[557, 733], [613, 673]], [[557, 853], [613, 912]]].forEach(seg => {
    g.append('path').attr('d', link(seg)).attr('stroke', '#cfcfcf').attr('stroke-width', 0.8).attr('fill', 'none');
  });
}
renderPie();

// panel C
function renderCircle() {
  const cx = 1435;
  const cy = 575;
  const toRad = a => a * Math.PI / 180;
  const polar = (r, a) => [cx + r * Math.sin(toRad(a)), cy - r * Math.cos(toRad(a))];
  const g = svg.append('g');
  const centre = g.append('g').attr('transform', `translate(${cx},${cy})`);

  // title and legend
  g.append('text').attr('x', 850).attr('y', 149)
    .attr('font-family', 'Liberation Sans').attr('font-weight', 700).attr('font-size', 40)
    .text('Susceptible Host');
  g.append('rect').attr('x', 853).attr('y', 153).attr('width', 322).attr('height', 3.4).attr('fill', '#000');
  const legendY = d3.scalePoint().domain(hostNames).range([212, 323.5]);
  hostNames.forEach((name, i) => {
    g.append('rect').attr('x', 852).attr('y', legendY(name) - 11.5).attr('width', 23).attr('height', 23)
      .attr('rx', 3).attr('fill', hostColors[i]);
    g.append('text').attr('x', 884).attr('y', legendY(name) + 8)
      .attr('font-family', 'Liberation Sans').attr('font-size', 22.3)
      .attr('font-style', hostItalic[i] ? 'italic' : 'normal').attr('fill', '#111')
      .text(name);
  });

  // outer origin arcs and host ring
  const ringArc = d3.arc().innerRadius(388).outerRadius(430);
  centre.append('path')
    .attr('d', ringArc({ startAngle: 0, endAngle: 2 * Math.PI }))
    .attr('fill', hostColors[0]);
  const hostColor = d3.scaleOrdinal().domain(hostNames).range(hostColors);
  centre.selectAll('.seg').data(ringSegments).enter().append('path')
    .attr('class', 'seg')
    .attr('d', d => ringArc({ startAngle: toRad(d[1]), endAngle: toRad(d[2]) }))
    .attr('fill', d => hostColor(d[0]));

  const outerArc = d3.arc().innerRadius(455.5).outerRadius(460.5);
  centre.selectAll('.origin').data(originArcs).enter().append('path')
    .attr('class', 'origin')
    .attr('d', d => outerArc({ startAngle: toRad(d[1]), endAngle: toRad(d[2]) }))
    .attr('fill', '#0c6fbd');
  g.selectAll('.originLabel').data(originArcs).enter().append('text')
    .attr('class', 'originLabel')
    .attr('transform', d => {
      const a = d[3];
      const n = (a + 360) % 360;
      const p = polar(442, a);
      return `translate(${p[0]},${p[1]}) rotate(${n >= 72 && n <= 300 ? n - 180 : n})`;
    })
    .attr('text-anchor', 'middle').attr('dominant-baseline', 'central')
    .attr('font-family', 'Open Sans').attr('font-weight', 600).attr('font-size', 13.5).attr('fill', '#111')
    .text(d => d[0]);

  // blue disc and tree
  centre.append('circle').attr('r', 193).attr('fill', '#9dc3e6');
  const root = d3.hierarchy(treeRoot, d => d[2]);
  const leafAngle = d3.scaleLinear().domain([0, tipLabels.length]).range([90, 450]);
  const depth = d3.scaleLinear().domain([0, 193]).range([0, 193]);
  let leafIdx = 0;
  root.eachAfter(n => {
    n.r = depth(n.data[1]);
    n.a = n.children
      ? (n.children[0].a + n.children[n.children.length - 1].a) / 2
      : leafAngle(leafIdx++);
  });
  const nodes = root.descendants();
  const branch = d3.path();
  nodes.forEach(n => {
    const parentR = n.parent ? n.parent.r : depth(13);
    const p0 = polar(parentR, n.a);
    const p1 = polar(n.r, n.a);
    branch.moveTo(p0[0], p0[1]);
    branch.lineTo(p1[0], p1[1]);
    if (n.children) {
      const a0 = n.children[0].a;
      const a1 = n.children[n.children.length - 1].a;
      const s = polar(n.r, a0);
      branch.moveTo(s[0], s[1]);
      branch.arc(cx, cy, n.r, toRad(a0 - 90), toRad(a1 - 90));
    }
  });

  // tip labels first, leader length depends on their width
  const labelR = 379;
  const tips = root.leaves();
  const labels = g.selectAll('.tip').data(tips).enter().append('text')
    .attr('class', 'tip')
    .attr('transform', d => {
      const p = polar(labelR, d.a);
      const n = d.a % 360;
      return `translate(${p[0]},${p[1]}) rotate(${n < 180 ? n - 90 : n + 90})`;
    })
    .attr('text-anchor', d => (d.a % 360 < 180 ? 'end' : 'start'))
    .attr('dominant-baseline', 'central')
    .attr('font-family', 'Liberation Sans').attr('font-size', 8.7).attr('fill', '#111')
    .attr('stroke', '#111').attr('stroke-width', 0.22)
    .text((d, i) => tipLabels[i]);
  labels.each(function(d) {
    const len = this.getComputedTextLength();
    const p0 = polar(d.r, d.a);
    const p1 = polar(labelR - len - 2, d.a);
    g.append('line')
      .attr('x1', p0[0]).attr('y1', p0[1]).attr('x2', p1[0]).attr('y2', p1[1])
      .attr('stroke', '#555').attr('stroke-width', 0.6);
  });

  g.append('path').attr('d', branch.toString())
    .attr('fill', 'none').attr('stroke', '#0c1622').attr('stroke-width', 1.25);

  // branch lengths along each branch
  g.selectAll('.len').data(nodes.filter(n => n.parent)).enter().append('text')
    .attr('class', 'len')
    .attr('transform', d => {
      const n = d.a % 360;
      const p = polar((d.r + d.parent.r) / 2, d.a);
      const rot = n < 180 ? n - 90 : n + 90;
      return `translate(${p[0]},${p[1]}) rotate(${rot}) translate(0,-2)`;
    })
    .attr('text-anchor', 'middle')
    .attr('font-family', 'Liberation Sans').attr('font-size', 4.6).attr('fill', '#2c4f7a')
    .text(d => d.data[0]);
}
renderCircle();
</script>
</body>
</html>
